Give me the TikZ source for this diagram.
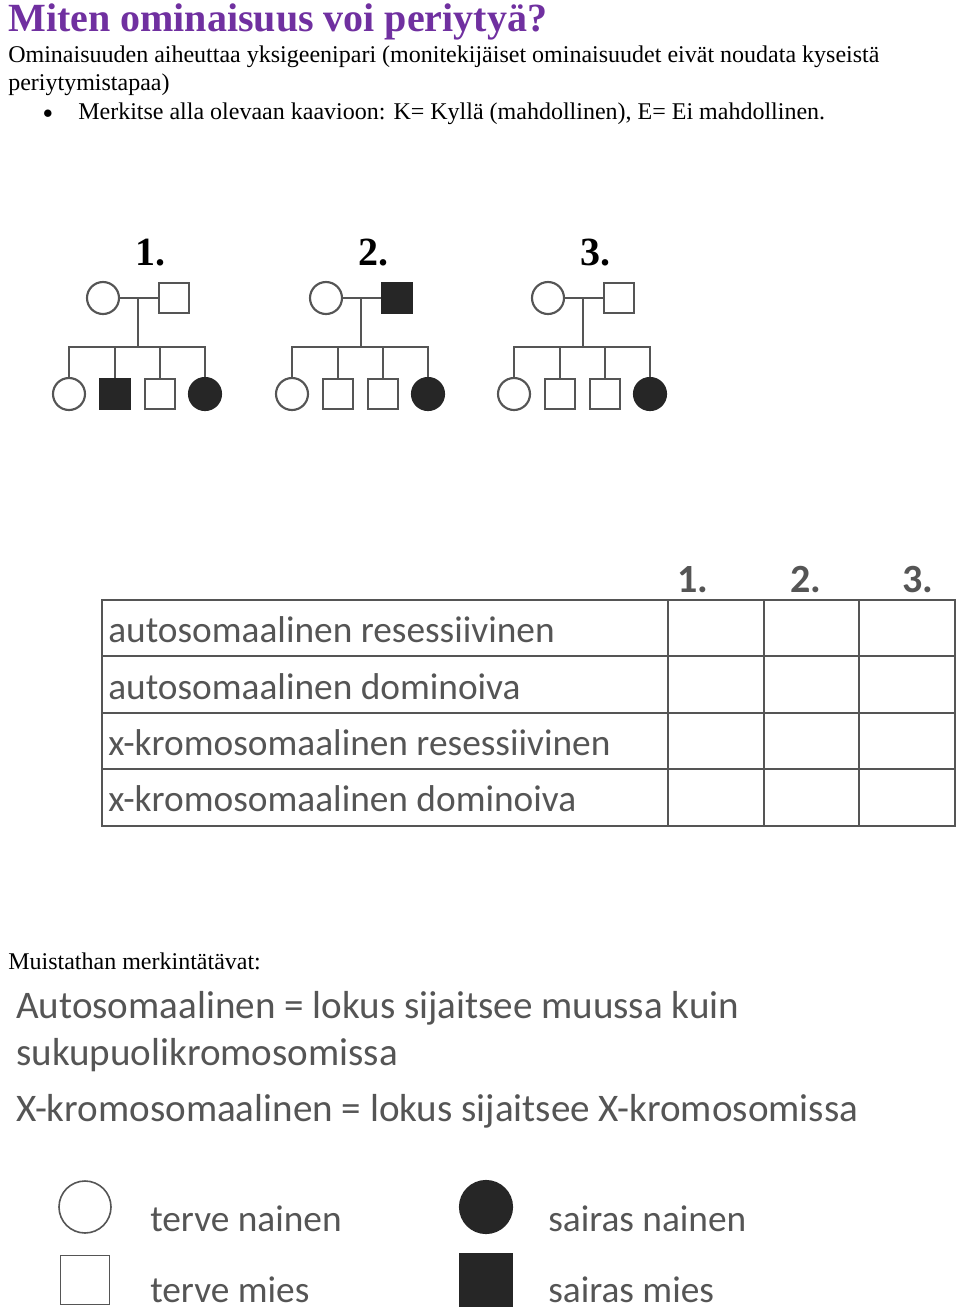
\documentclass[tikz,border=0pt]{standalone}
\usepackage{fontspec}
\setmainfont{Liberation Serif}
\newfontfamily\calib{Carlito}
\usetikzlibrary{positioning}
\definecolor{titlepurple}{HTML}{7030A0}
\definecolor{pedgray}{HTML}{555555}
\definecolor{tabgray}{HTML}{555555}
\tikzset{
  fem/.style={circle, draw=pedgray, line width=1.6pt, minimum size=24pt, inner sep=0pt},
  mal/.style={rectangle, draw=pedgray, line width=1.6pt, minimum size=23pt, inner sep=0pt},
  sick/.style={fill=black!85, draw=black!85},
  pline/.style={draw=pedgray, line width=1.4pt},
  txt/.style={anchor=base west, inner sep=0pt, font=\fontsize{18}{20}\selectfont},
  graytxt/.style={txt, font=\calib\fontsize{28}{32}\selectfont, text=tabgray},
  num/.style={font=\bfseries\fontsize{30}{30}\selectfont, inner sep=0pt}
}
\begin{document}
\begin{tikzpicture}[x=0.75pt, y=-0.75pt]
  \useasboundingbox (0,0) rectangle (960,1311);
  % header text
  \node[txt, text=titlepurple, font=\bfseries\fontsize{30}{34}\selectfont] (title) at (8,31) {Miten ominaisuus voi periytyä?};
  \node[txt] (l1) at (8,62) {Ominaisuuden aiheuttaa yksigeenipari (monitekijäiset ominaisuudet eivät noudata kyseistä};
  \node[txt] (l2) at (8,90) {periytymistapaa)};
  \node[inner sep=0pt, font=\Large] (bul) at (48,114) {$\bullet$};
  \node[txt] (l3) at (78,119) {Merkitse alla olevaan kaavioon: K= Kyllä (mahdollinen), E= Ei mahdollinen.};
  % pedigrees
  \foreach \n/\dx/\pf/\cb in {1/0/{}/sick, 2/223/sick/{}, 3/445/{}/{}}{
    \node[num] (N\n) at (150+\dx,253) {\n.};
    \node[fem] (M\n) at (103+\dx,298) {};
    \node[mal,\pf] (F\n) at (174+\dx,298) {};
    \coordinate (J\n) at (138+\dx,298);
    \coordinate (B\n) at (138+\dx,347);
    \node[fem] (C\n a) at (69+\dx,394) {};
    \node[mal,\cb] (C\n b) at (115+\dx,394) {};
    \node[mal] (C\n c) at (160+\dx,394) {};
    \node[fem,sick] (C\n d) at (205+\dx,394) {};
    \draw[pline] (M\n) -- (F\n);
    \draw[pline] (J\n) -- (B\n);
    \draw[pline] (C\n a.north) |- (B\n) -| (C\n d.north);
    \draw[pline] (C\n b.north) -- (C\n b.north |- B\n);
    \draw[pline] (C\n c.north) -- (C\n c.north |- B\n);
  }
  % table
  \draw[draw=tabgray, line width=1.6pt] (102,600) rectangle (955,826);
  \foreach \y in {656,713,769}
    \draw[draw=tabgray, line width=1.6pt] (102,\y) -- (955,\y);
  \foreach \x in {668,764,859}
    \draw[draw=tabgray, line width=1.6pt] (\x,600) -- (\x,826);
  \foreach \n/\x in {1/693,2/806,3/918}
    \node[num, font=\calib\bfseries\fontsize{30}{30}\selectfont, text=tabgray] (H\n) at (\x,580) {\n.};
  \node[graytxt] (r1) at (108,642) {autosomaalinen resessiivinen};
  \node[graytxt] (r2) at (108,699) {autosomaalinen dominoiva};
  \node[graytxt] (r3) at (108,755) {x-kromosomaalinen resessiivinen};
  \node[graytxt] (r4) at (108,811) {x-kromosomaalinen dominoiva};
  % reminders
  \node[txt] (muist) at (8,969) {Muistathan merkintätävat:};
  \node[graytxt, font=\calib\fontsize{29.3}{33}\selectfont] (a1) at (16,1018) {Autosomaalinen = lokus sijaitsee muussa kuin};
  \node[graytxt, font=\calib\fontsize{29.3}{33}\selectfont] (a2) at (16,1065) {sukupuolikromosomissa};
  \node[graytxt, font=\calib\fontsize{29.3}{33}\selectfont] (a3) at (16,1121) {X-kromosomaalinen = lokus sijaitsee X-kromosomissa};
  % legend
  \node[fem, minimum size=39pt, line width=1.2pt] (lf) at (85,1207) {};
  \node[fem, sick, minimum size=39pt] (lfs) at (486,1207) {};
  \node[mal, minimum size=37pt, line width=1.2pt] (lm) at (85,1280) {};
  \node[mal, sick, minimum size=39pt] (lms) at (486,1280) {};
  \node[graytxt] (t1) at (150,1231) {terve nainen};
  \node[graytxt] (t2) at (548,1231) {sairas nainen};
  \node[graytxt] (t3) at (150,1302) {terve mies};
  \node[graytxt] (t4) at (548,1302) {sairas mies};
\end{tikzpicture}
\end{document}
